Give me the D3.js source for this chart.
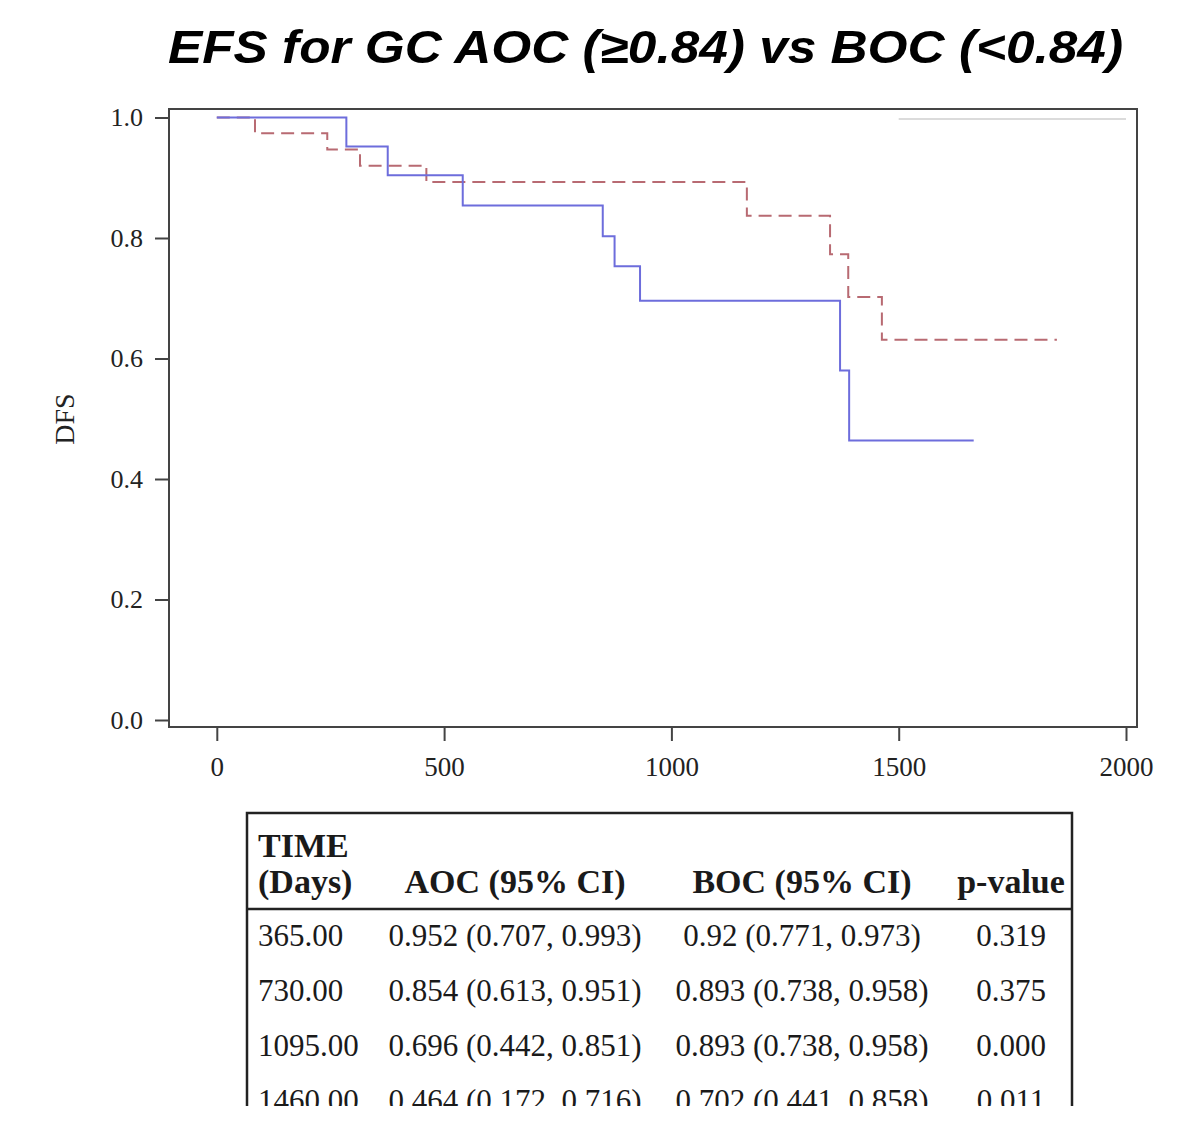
<!DOCTYPE html>
<html>
<head>
<meta charset="utf-8">
<script src="https://cdn.jsdelivr.net/npm/d3@7"></script>
<style>
  body { margin: 0; background: #fff; }
  svg { display: block; }
</style>
</head>
<body>
<script>
// survival curves (time in days, survival probability)
var aocTime = [0, 285, 376, 541, 849, 875, 931, 1371, 1391, 1665];
var aocSurv = [1, 0.952, 0.904, 0.854, 0.803, 0.753, 0.696, 0.580, 0.464, 0.464];
var bocTime = [0, 84, 243, 315, 461, 1166, 1349, 1389, 1463, 1848];
var bocSurv = [1, 0.974, 0.947, 0.920, 0.893, 0.837, 0.773, 0.702, 0.631, 0.631];
var legendLine = [1500, 2000];

var xTicks = [0, 500, 1000, 1500, 2000];
var yTicks = [0, 0.2, 0.4, 0.6, 0.8, 1.0];

// table under the plot
var headerTop = ["TIME", "", "", ""];
var headerBottom = ["(Days)", "AOC (95% CI)", "BOC (95% CI)", "p-value"];
var tableTimes = ["365.00", "730.00", "1095.00", "1460.00"];
var aocCI = ["0.952 (0.707, 0.993)", "0.854 (0.613, 0.951)", "0.696 (0.442, 0.851)", "0.464 (0.172, 0.716)"];
var bocCI = ["0.92 (0.771, 0.973)", "0.893 (0.738, 0.958)", "0.893 (0.738, 0.958)", "0.702 (0.441, 0.858)"];
var pValues = ["0.319", "0.375", "0.000", "0.011"];

var WIDTH = 1200;
var HEIGHT = 1136;
var BOX = {left: 169, right: 1137, top: 109, bottom: 727};
var SERIF = "'Liberation Serif', 'Times New Roman', serif";

var translate = function (x, y) {
  return "translate(" + x + "," + y + ")";
};

var xScale = d3.scaleLinear()
    .domain([0, 2000])
    .range([216.8, 1126]);

var yScale = d3.scaleLinear()
    .domain([0, 1])
    .range([720, 117.5]);

var line = d3.line()
    .curve(d3.curveStepAfter)
    .x(function (d) { return xScale(d[0]); })
    .y(function (d) { return yScale(d[1]); });

var svg = d3.select("body").append("svg")
    .attr("width", WIDTH)
    .attr("height", HEIGHT);

svg.append("rect")
    .attr("width", WIDTH)
    .attr("height", HEIGHT)
    .attr("fill", "#fff");

// title
svg.append("text")
    .attr("x", 645.5)
    .attr("y", 63)
    .attr("text-anchor", "middle")
    .attr("font-family", "'Liberation Sans', Arial, sans-serif")
    .attr("font-weight", "bold")
    .attr("font-style", "italic")
    .attr("font-size", 47)
    .attr("textLength", 955)
    .attr("lengthAdjust", "spacingAndGlyphs")
    .attr("fill", "#000")
    .text("EFS for GC AOC (\u22650.84) vs BOC (<0.84)");

// grey legend stub in the corner
svg.append("line")
    .attr("x1", xScale(legendLine[0]))
    .attr("x2", xScale(legendLine[1]))
    .attr("y1", yScale(1) + 1.5)
    .attr("y2", yScale(1) + 1.5)
    .attr("stroke", "#cfcfcf")
    .attr("stroke-width", 1.5);

// curves
var aocData = aocTime.map(function (t, i) { return [t, aocSurv[i]]; });
var bocData = bocTime.map(function (t, i) { return [t, bocSurv[i]]; });

svg.append("path")
    .attr("d", line(bocData))
    .attr("fill", "none")
    .attr("stroke", "#b86a72")
    .attr("stroke-width", 2)
    .attr("stroke-dasharray", "13,7");

svg.append("path")
    .attr("d", line(aocData))
    .attr("fill", "none")
    .attr("stroke", "#6d6ddc")
    .attr("stroke-width", 2);

// frame
svg.append("rect")
    .attr("x", BOX.left)
    .attr("y", BOX.top)
    .attr("width", BOX.right - BOX.left)
    .attr("height", BOX.bottom - BOX.top)
    .attr("fill", "none")
    .attr("stroke", "#444")
    .attr("stroke-width", 2);

// axes
var yAxis = d3.axisLeft(yScale)
    .tickValues(yTicks)
    .tickFormat(d3.format(".1f"))
    .tickSize(14)
    .tickPadding(12);

var xAxis = d3.axisBottom(xScale)
    .tickValues(xTicks)
    .tickFormat(d3.format("d"))
    .tickSize(14)
    .tickPadding(16);

var gy = svg.append("g")
    .attr("transform", translate(BOX.left, 0))
    .call(yAxis);

var gx = svg.append("g")
    .attr("transform", translate(0, BOX.bottom))
    .call(xAxis);

[gx, gy].forEach(function (g) {
  g.select(".domain").remove();
  g.selectAll(".tick line").attr("stroke", "#444").attr("stroke-width", 2);
  g.selectAll(".tick text")
      .attr("fill", "#222")
      .attr("font-family", SERIF);
});
gy.selectAll(".tick text").attr("font-size", 26);
gx.selectAll(".tick text").attr("font-size", 27);

svg.append("text")
    .attr("transform", translate(74, 419) + " rotate(-90)")
    .attr("text-anchor", "middle")
    .attr("font-family", SERIF)
    .attr("font-size", 28)
    .attr("fill", "#222")
    .text("DFS");

// table
var T = {left: 247, right: 1072, top: 813, headLine: 909, clip: 1106};
var colX = [258, 515, 802, 1011];
var colAnchor = ["start", "middle", "middle", "middle"];
var rowBase = [946, 1001, 1056, 1111];

svg.append("clipPath")
    .attr("id", "tableClip")
    .append("rect")
    .attr("x", 0)
    .attr("y", 0)
    .attr("width", WIDTH)
    .attr("height", T.clip);

var tg = svg.append("g").attr("clip-path", "url(#tableClip)");

tg.append("path")
    .attr("d", "M" + T.left + "," + (T.clip + 10) + "V" + T.top + "H" + T.right + "V" + (T.clip + 10))
    .attr("fill", "none")
    .attr("stroke", "#222")
    .attr("stroke-width", 2.5);

tg.append("line")
    .attr("x1", T.left)
    .attr("x2", T.right)
    .attr("y1", T.headLine)
    .attr("y2", T.headLine)
    .attr("stroke", "#222")
    .attr("stroke-width", 2.5);

tg.selectAll("text.htop")
    .data(headerTop)
    .enter().append("text")
    .attr("class", "htop")
    .attr("x", function (d, i) { return colX[i]; })
    .attr("y", 857)
    .attr("text-anchor", function (d, i) { return colAnchor[i]; })
    .attr("font-family", SERIF)
    .attr("font-weight", "bold")
    .attr("font-size", 34)
    .attr("fill", "#1a1a1a")
    .text(function (d) { return d; });

tg.selectAll("text.hbot")
    .data(headerBottom)
    .enter().append("text")
    .attr("class", "hbot")
    .attr("x", function (d, i) { return colX[i]; })
    .attr("y", 893)
    .attr("text-anchor", function (d, i) { return colAnchor[i]; })
    .attr("font-family", SERIF)
    .attr("font-weight", "bold")
    .attr("font-size", 34)
    .attr("fill", "#1a1a1a")
    .text(function (d) { return d; });

var rows = tableTimes.map(function (t, i) {
  return [t, aocCI[i], bocCI[i], pValues[i]];
});

tg.selectAll("g.row")
    .data(rows)
    .enter().append("g")
    .attr("class", "row")
    .attr("transform", function (d, i) { return translate(0, rowBase[i]); })
    .selectAll("text")
    .data(function (d) { return d; })
    .enter().append("text")
    .attr("x", function (d, i) { return colX[i]; })
    .attr("text-anchor", function (d, i) { return colAnchor[i]; })
    .attr("font-family", SERIF)
    .attr("font-size", 31)
    .attr("fill", "#1a1a1a")
    .text(function (d) { return d; });
</script>
</body>
</html>
